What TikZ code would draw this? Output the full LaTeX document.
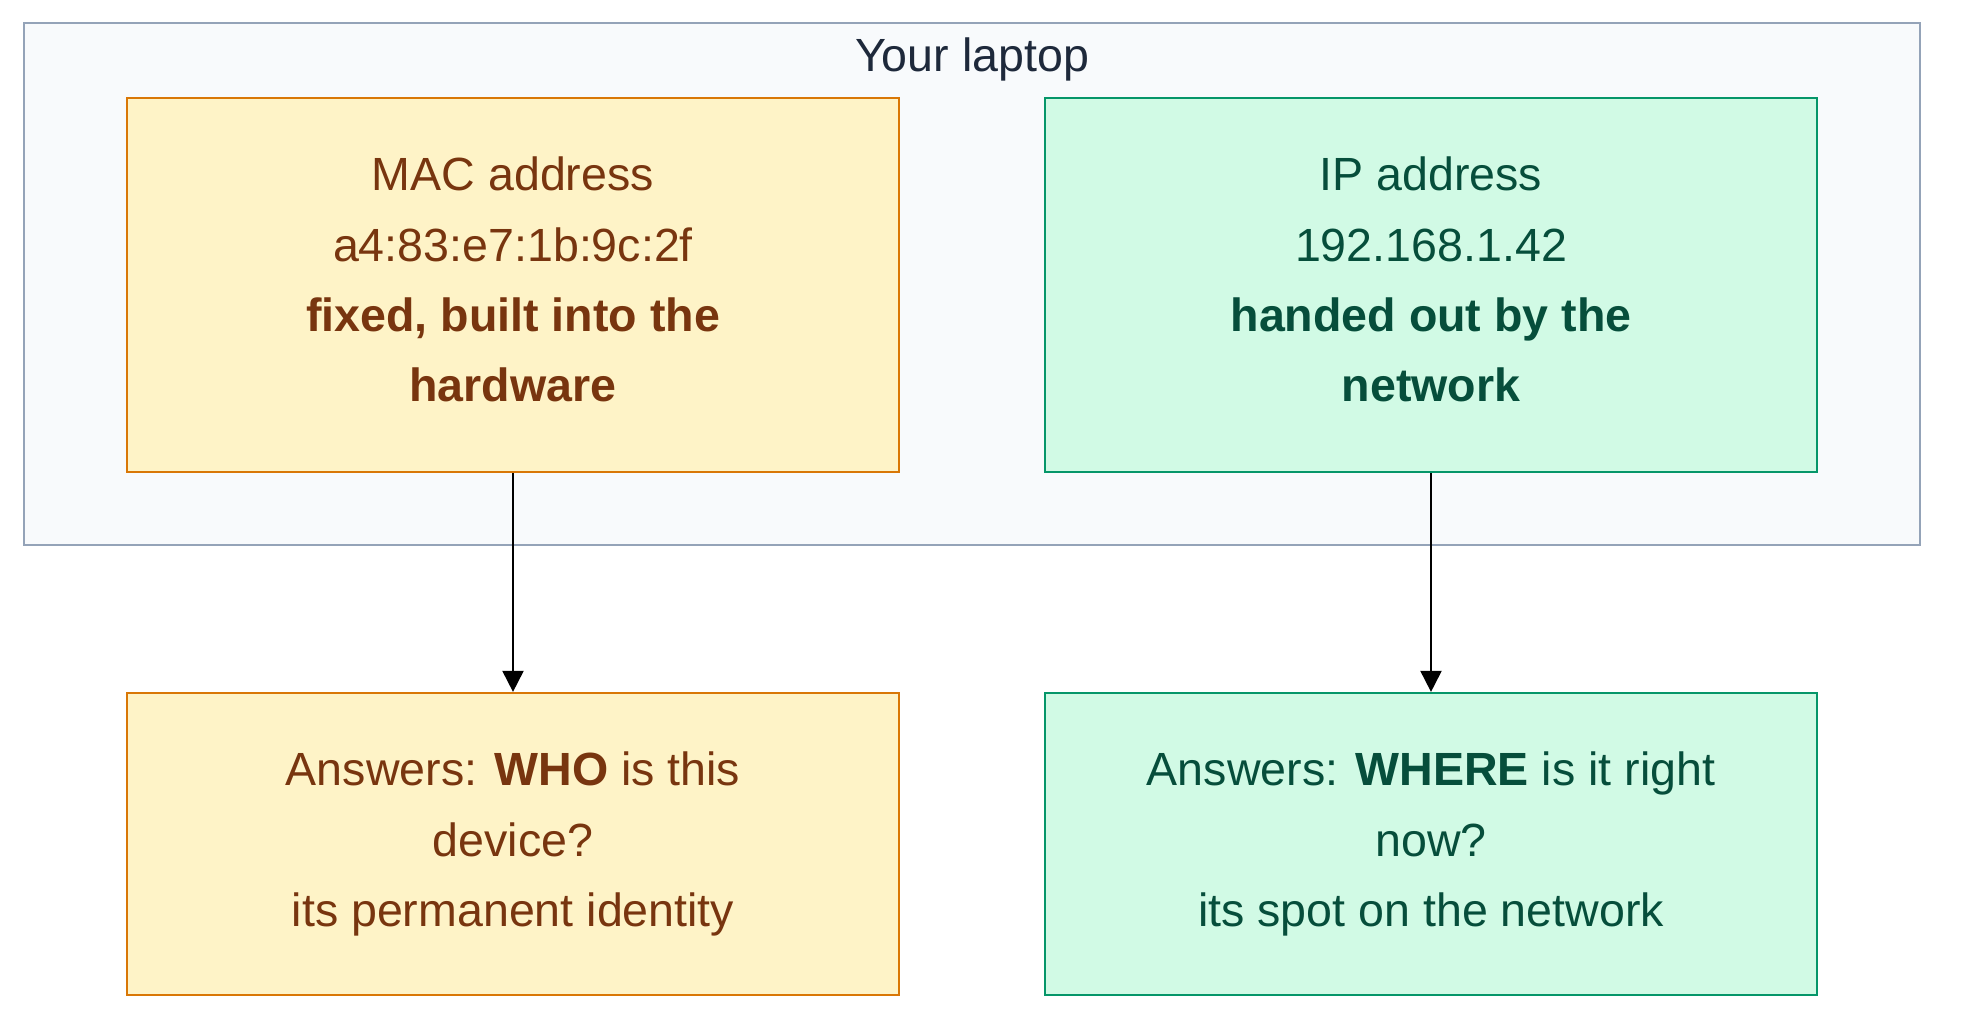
\documentclass[tikz,border=0pt]{standalone}
\usepackage{fontspec}
\setmainfont{Liberation Sans}
\usepackage{xcolor}
\usetikzlibrary{arrows.meta, positioning}

\definecolor{macfill}{HTML}{FEF3C7}
\definecolor{macline}{HTML}{D97706}
\definecolor{mactext}{HTML}{78350F}
\definecolor{ipfill}{HTML}{D1FAE5}
\definecolor{ipline}{HTML}{059669}
\definecolor{iptext}{HTML}{064E3B}
\definecolor{framefill}{HTML}{F8FAFC}
\definecolor{frameline}{HTML}{94A3B8}
\definecolor{titletext}{HTML}{1E293B}

\begin{document}
\begin{tikzpicture}[x=0.02cm, y=-0.02cm,
    every node/.style={font=\fontsize{26.5pt}{40pt}\selectfont, align=center},
    macbox/.style={draw=macline, fill=macfill, text=mactext, line width=1.3pt, minimum width=15.44cm},
    ipbox/.style={draw=ipline, fill=ipfill, text=iptext, line width=1.3pt, minimum width=15.44cm},
    link/.style={-{Triangle[length=12pt, width=12pt]}, line width=1.1pt, black}]
    \useasboundingbox (0,0) rectangle (1968,1032);

    % laptop frame
    \draw[draw=frameline, fill=framefill, line width=1.3pt] (24,23) rectangle (1920,545);
    \node[text=titletext] (title) at (972,59) {Your laptop};

    % the two addresses
    \node[macbox, minimum height=7.48cm, text depth=0.22cm] (mac) at (513,285)
        {MAC address\\a4:83:e7:1b:9c:2f\\\textbf{fixed, built into the}\\\textbf{hardware}};
    \node[ipbox, minimum height=7.48cm, text depth=0.22cm] (ip) at (1431,285)
        {IP address\\192.168.1.42\\\textbf{handed out by the}\\\textbf{network}};

    % what they answer
    \node[macbox, minimum height=6.04cm] (who) at (513,844)
        {Answers: \textbf{WHO} is this\\device?\\its permanent identity};
    \node[ipbox, minimum height=6.04cm] (where) at (1431,844)
        {Answers: \textbf{WHERE} is it right\\now?\\its spot on the network};

    \draw[link] (mac) -- (who);
    \draw[link] (ip) -- (where);
\end{tikzpicture}
\end{document}
